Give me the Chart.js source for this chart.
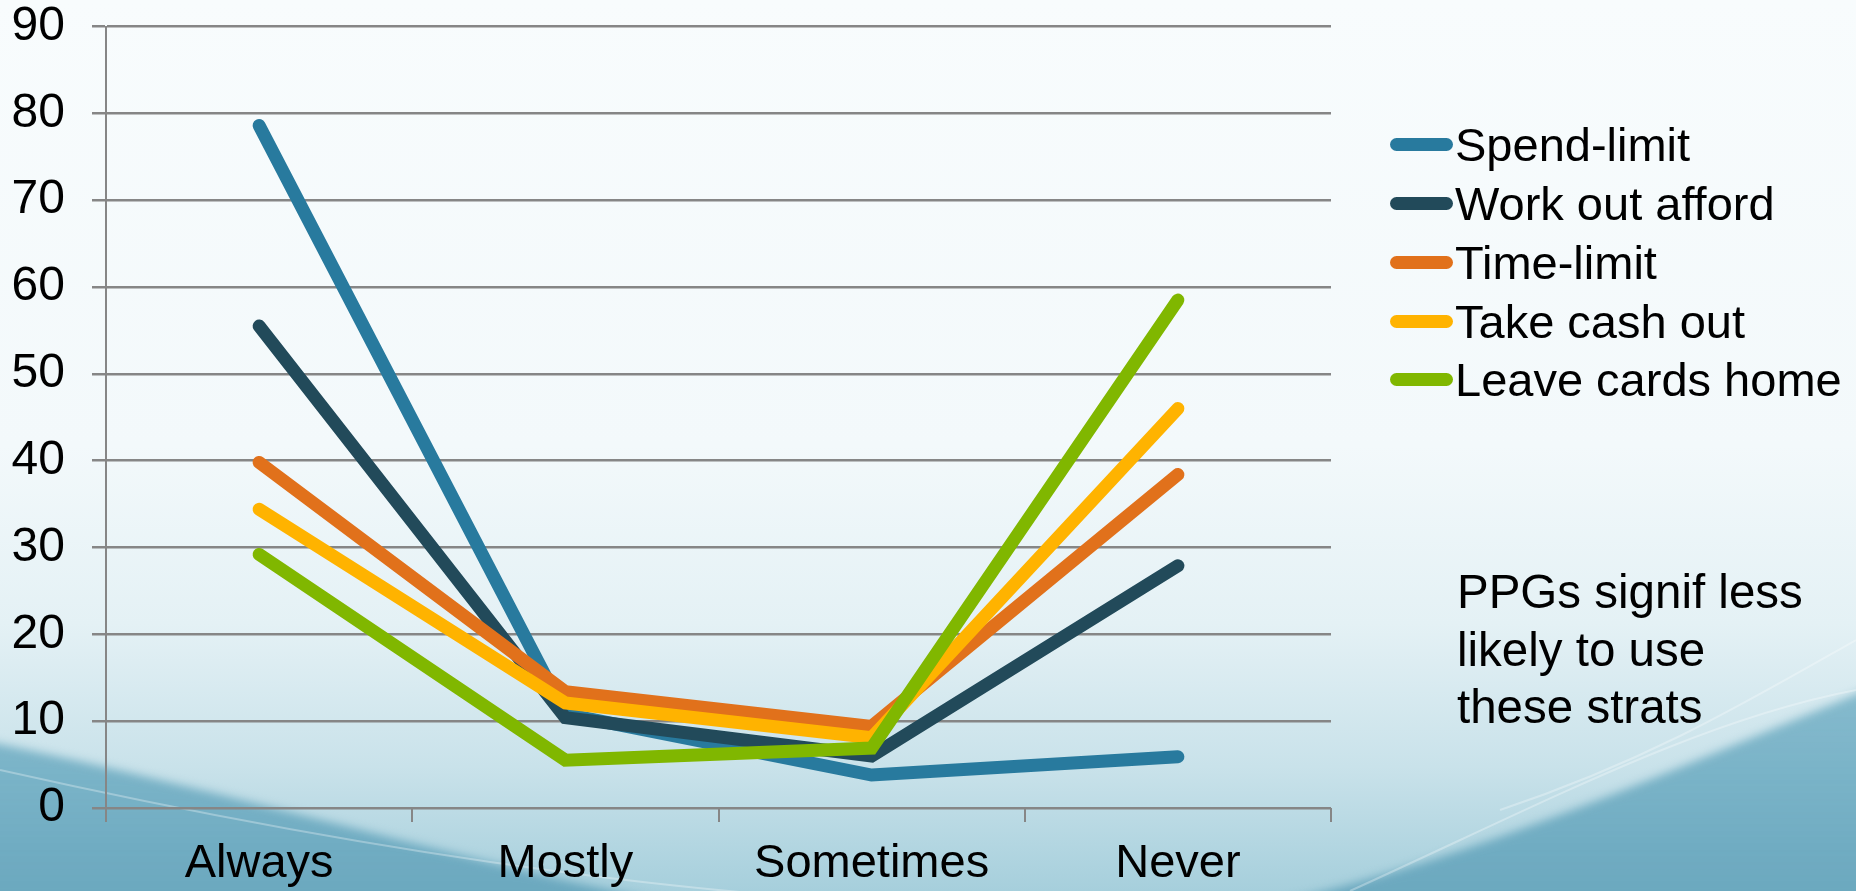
<!DOCTYPE html>
<html>
<head>
<meta charset="utf-8">
<script src="https://cdn.jsdelivr.net/npm/chart.js@4.4.1/dist/chart.umd.min.js"></script>
<style>
  html, body { margin: 0; padding: 0; }
  body { width: 1856px; height: 891px; overflow: hidden; font-family: "Liberation Sans", Arial, sans-serif; }
  #wrap { position: relative; width: 1856px; height: 891px; }
  #legend { position: absolute; left: 1390px; top: 115.6px; }
  .row { display: flex; align-items: center; height: 58.7px; font-size: 47px; color: #000; white-space: nowrap; }
  .swatch { width: 63px; height: 13px; border-radius: 6.5px; margin-right: 2px; }
  #note { position: absolute; left: 1457px; top: 563px; font-size: 47.5px; line-height: 57.5px; color: #000; white-space: nowrap; }
</style>
</head>
<body>
<div id="wrap">
  <canvas id="strategyChart"></canvas>
  <div id="legend"></div>
  <div id="note">PPGs signif less<br>likely to use<br>these strats</div>
</div>
<script>
// dữ liệu
const categories = ["Always", "Mostly", "Sometimes", "Never"];
const seriesLabels = ["Spend-limit", "Work out afford", "Time-limit", "Take cash out", "Leave cards home"];
const seriesColors = ["#287a9e", "#224a5a", "#e1711b", "#ffb300", "#80b700"];

const spendLimit = [78.6, 10.8, 3.8, 5.9];
const workOutAfford = [55.5, 10.4, 6.0, 27.9];
const timeLimit = [39.8, 13.4, 9.4, 38.4];
const takeCashOut = [34.4, 12.1, 8.1, 46.0];
const leaveCardsHome = [29.2, 5.5, 6.9, 58.5];

const yTicks = [0, 10, 20, 30, 40, 50, 60, 70, 80, 90];

const seriesValues = [spendLimit, workOutAfford, timeLimit, takeCashOut, leaveCardsHome];

// Nền kiểu slide: gradient + sóng
const slideBackground = {
    id: 'slideBackground',
    beforeDraw(chart) {
        const { ctx, width, height } = chart;
        ctx.save();
        const g = ctx.createLinearGradient(0, 0, 0, height);
        g.addColorStop(0, '#f8fcfd');
        g.addColorStop(0.5, '#f3f9fb');
        g.addColorStop(0.7, '#e4f1f5');
        g.addColorStop(0.86, '#c9e2ea');
        g.addColorStop(1, '#a6cfdc');
        ctx.fillStyle = g;
        ctx.fillRect(0, 0, width, height);

        // vùng xanh đậm hai góc dưới (làm mờ mép)
        ctx.filter = 'blur(5px)';
        const g2 = ctx.createLinearGradient(0, 650, 0, height);
        g2.addColorStop(0, 'rgba(118,178,199,0.8)');
        g2.addColorStop(1, 'rgba(104,166,189,0.95)');
        ctx.beginPath();
        ctx.moveTo(-20, 740);
        ctx.bezierCurveTo(350, 815, 700, 940, 980, 940);
        ctx.bezierCurveTo(1300, 940, 1600, 800, width + 20, 686);
        ctx.lineTo(width + 20, height + 20);
        ctx.lineTo(-20, height + 20);
        ctx.closePath();
        ctx.fillStyle = g2;
        ctx.fill();
        ctx.filter = 'none';

        // các đường sóng sáng
        ctx.strokeStyle = 'rgba(255,255,255,0.3)';
        ctx.lineWidth = 2;
        ctx.beginPath();
        ctx.moveTo(0, 770);
        ctx.bezierCurveTo(400, 860, 750, 905, 1000, 905);
        ctx.stroke();
        ctx.beginPath();
        ctx.moveTo(1500, 810);
        ctx.bezierCurveTo(1650, 760, 1750, 700, width, 640);
        ctx.stroke();
        ctx.beginPath();
        ctx.moveTo(1350, 891);
        ctx.bezierCurveTo(1550, 800, 1700, 720, width, 690);
        ctx.stroke();
        ctx.restore();
    }
};

const datasets = seriesLabels.map((label, i) => ({
    label,
    data: seriesValues[i],
    borderColor: seriesColors[i],
    backgroundColor: seriesColors[i],
    borderWidth: 13,
    borderCapStyle: 'round',
    borderJoinStyle: 'miter',
    pointRadius: 0,
    tension: 0,
    order: seriesLabels.length - 1 - i,
}));

const ctx = document.getElementById('strategyChart').getContext('2d');
new Chart(ctx, {
    type: 'line',
    data: { labels: categories, datasets },
    options: {
        responsive: true,
        maintainAspectRatio: false,
        animation: false,
        layout: { padding: { top: 0, right: 525, bottom: 0, left: 0 } },
        plugins: { legend: { display: false }, tooltip: { enabled: false } },
        scales: {
            x: {
                offset: true,
                afterFit: (s) => { s.height = 83; },
                grid: { drawOnChartArea: false, offset: true, color: '#868686', lineWidth: 2, tickLength: 14 },
                border: { display: false },
                ticks: { color: '#000', padding: 14, font: { family: 'Liberation Sans', size: 47 } },
            },
            y: {
                min: 0,
                max: 90,
                afterFit: (s) => { s.width = 106; s.paddingTop = 26.5; s.paddingBottom = 0; },
                afterBuildTicks: (s) => { s.ticks = yTicks.map(v => ({ value: v })); },
                grid: { color: '#868686', lineWidth: 2.5, tickLength: 14 },
                border: { display: true, color: '#868686', width: 2 },
                ticks: { color: '#000', padding: 27, font: { family: 'Liberation Sans', size: 48 } },
            },
        },
    },
    plugins: [slideBackground],
});

// legend HTML
const legendEl = document.getElementById('legend');
seriesLabels.forEach((label, i) => {
    const row = document.createElement('div');
    row.className = 'row';
    const sw = document.createElement('div');
    sw.className = 'swatch';
    sw.style.background = seriesColors[i];
    row.appendChild(sw);
    const t = document.createElement('span');
    t.textContent = label;
    row.appendChild(t);
    legendEl.appendChild(row);
});
</script>
</body>
</html>
